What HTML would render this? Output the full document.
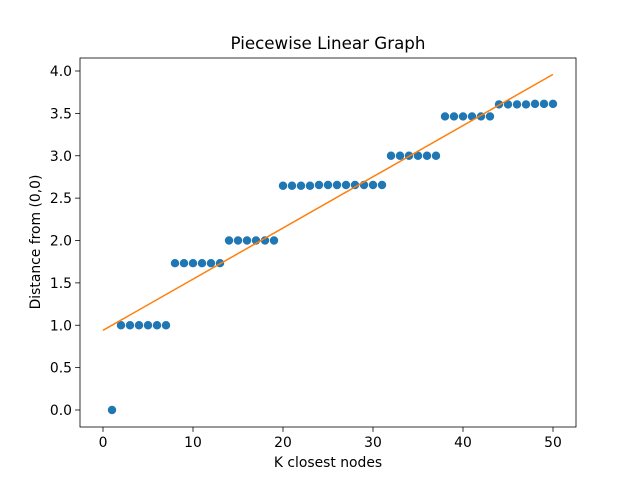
<!DOCTYPE html>
<html><head><meta charset="utf-8"><style>
html,body{margin:0;padding:0;background:#fff;}
svg{display:block;font-family:"DejaVu Sans","Liberation Sans",sans-serif;}
</style></head><body>
<svg id="chart" width="640" height="480" viewBox="0 0 640 480">
<rect width="640" height="480" fill="#fff"/>
<g id="plot"></g>
</svg>
<script>
const kValues = [1,2,3,4,5,6,7,8,9,10,11,12,13,14,15,16,17,18,19,20,21,22,23,24,25,26,27,28,29,30,31,32,33,34,35,36,37,38,39,40,41,42,43,44,45,46,47,48,49,50];
const distances = [0,1,1,1,1,1,1,1.732,1.732,1.732,1.732,1.732,1.732,2,2,2,2,2,2,2.646,2.646,2.646,2.646,2.655,2.655,2.655,2.655,2.655,2.655,2.655,2.655,3,3,3,3,3,3,3.464,3.464,3.464,3.464,3.464,3.464,3.606,3.606,3.606,3.606,3.612,3.612,3.612];
const fitX = [0,50];
const fitY = [0.94,3.96];
const xTicks = [0,10,20,30,40,50];
const yTicks = [0.0,0.5,1.0,1.5,2.0,2.5,3.0,3.5,4.0];

const L=80,R=576,T=58,B=427;
const xs = v => 103 + v*9;
const ys = v => 410 - v*84.75;
const NS="http://www.w3.org/2000/svg";
const g=document.getElementById('plot');
function mk(tag,attrs,parent){const e=document.createElementNS(NS,tag);for(const k in attrs)e.setAttribute(k,attrs[k]);(parent||g).appendChild(e);return e;}

kValues.forEach((k,i)=>{
  const c=mk('circle',{cx:xs(k),cy:ys(distances[i]),r:4.2,fill:'#1f77b4'});
  
  
});
const ln=mk('line',{x1:xs(fitX[0]),y1:ys(fitY[0]),x2:xs(fitX[1]),y2:ys(fitY[1]),stroke:'#ff7f0e','stroke-width':1.5});


const fr=mk('rect',{x:L,y:T,width:R-L,height:B-T,fill:'none',stroke:'#000','stroke-width':0.8});


xTicks.forEach(t=>{
  const x=xs(t);
  const tk=mk('line',{x1:x,y1:B,x2:x,y2:B+4.9,stroke:'#000','stroke-width':0.8});
  
  
  const tx=mk('text',{x:x,y:B+20,'text-anchor':'middle','font-size':13.9,fill:'#000'});
  tx.textContent=t;
  
  
});
yTicks.forEach(t=>{
  const y=ys(t);
  const tk=mk('line',{x1:L-4.9,y1:y,x2:L,y2:y,stroke:'#000','stroke-width':0.8});
  
  
  const tx=mk('text',{x:L-8,y:y+5,'text-anchor':'end','font-size':13.9,fill:'#000'});
  tx.textContent=t.toFixed(1);
  
  
});
const title=mk('text',{x:(L+R)/2,y:49,'text-anchor':'middle','font-size':16.7,fill:'#000'});
title.textContent='Piecewise Linear Graph';


const xl=mk('text',{x:(L+R)/2,y:467,'text-anchor':'middle','font-size':13.9,fill:'#000'});
xl.textContent='K closest nodes';


const yl=mk('text',{x:0,y:0,'text-anchor':'middle','font-size':13.9,fill:'#000',transform:'translate(40,242) rotate(-90)'});
yl.textContent='Distance from (0,0)';


</script>
</body></html>
